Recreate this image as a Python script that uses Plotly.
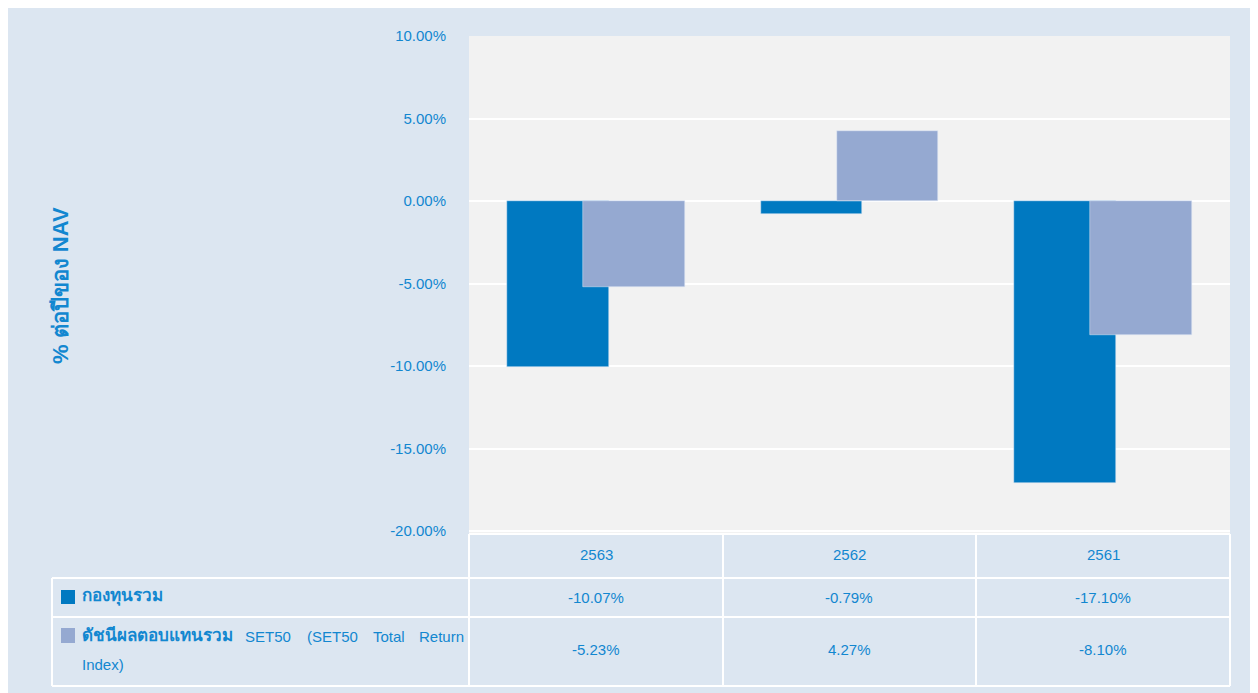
import plotly.graph_objects as go

categories = ["2563", "2562", "2561"]
fund_name = "กองทุนรวม"
bench_name_thai = "ดัชนีผลตอบแทนรวม"
bench_name_words = ["SET50", "(SET50", "Total", "Return"]
bench_name_line2 = "Index)"
fund_values = [-10.07, -0.79, -17.10]
bench_values = [-5.23, 4.27, -8.10]
y_tickvals = [-20, -15, -10, -5, 0, 5, 10]
y_title = "% ต่อปีของ NAV"

OFF = 8  # page body margin
W, H = 1258 - OFF, 693 - OFF
# plot area in screen pixels
SL, SR, ST, SB = 469, 1230, 36, 533
L, R, T, B = SL - OFF, SR - OFF, ST - OFF, SB - OFF
BG = "#dce6f1"
DARK = "#0079c1"
LIGHT = "#95a9d1"
TXT = "#1287d0"
FONT = "Liberation Sans, Arial, sans-serif"


def X(sx):
    return (sx - SL) / (SR - SL)


def Y(sy):
    return (SB - sy) / (SB - ST)


fig = go.Figure()
fig.add_trace(go.Bar(x=categories, y=fund_values, name=fund_name, marker_color=DARK,
                     offset=-0.35, width=0.4, showlegend=False))
fig.add_trace(go.Bar(x=categories, y=bench_values, name=bench_name_thai, marker_color=LIGHT,
                     offset=-0.05, width=0.4, showlegend=False))

shapes = []


def hline(y, x0, x1):
    shapes.append(dict(type="line", xref="paper", yref="paper", x0=X(x0), x1=X(x1), y0=Y(y), y1=Y(y),
                       line=dict(color="white", width=2)))


def vline(x, y0, y1):
    shapes.append(dict(type="line", xref="paper", yref="paper", x0=X(x), x1=X(x), y0=Y(y0), y1=Y(y1),
                       line=dict(color="white", width=2)))


hline(534, 469, 1230)
hline(578, 52, 1230)
hline(617, 52, 1230)
hline(686, 52, 1230)
vline(52, 578, 686)
for xv in [469, 723, 976, 1230]:
    vline(xv, 534, 686)

# legend squares
shapes.append(dict(type="rect", xref="paper", yref="paper", x0=X(61), x1=X(75), y0=Y(590), y1=Y(604),
                   fillcolor=DARK, line_width=0))
shapes.append(dict(type="rect", xref="paper", yref="paper", x0=X(61), x1=X(75), y0=Y(628), y1=Y(643),
                   fillcolor=LIGHT, line_width=0))

ann = []


def text(px, py, s, size=15, xanchor="center", bold=False, angle=0):
    ann.append(dict(xref="paper", yref="paper", x=X(px), y=Y(py), text=f"<b>{s}</b>" if bold else s,
                    showarrow=False, xanchor=xanchor, yanchor="middle", textangle=angle,
                    font=dict(family=FONT, size=size, color=TXT)))


col_centers = [596, 849, 1103]
for c, cat, fv, bv in zip(col_centers, categories, fund_values, bench_values):
    text(c, 554, cat)
    text(c, 597, f"{fv:.2f}%")
    text(c, 650, f"{bv:.2f}%")

text(80, 596, fund_name, size=17, xanchor="left", bold=True)
text(80, 635, bench_name_thai, size=17, xanchor="left", bold=True)
word_x = [243, 305, 371, 466]
for wx, w, i in zip(word_x, bench_name_words, range(4)):
    text(wx, 636, w, xanchor="right" if i == 3 else "left")
text(80, 664, bench_name_line2, xanchor="left")

text(60, 286, y_title, size=22, bold=True, angle=-90)

fig.update_layout(
    width=W, height=H,
    margin=dict(l=L, r=W - R, t=T, b=H - B),
    paper_bgcolor=BG,
    plot_bgcolor="#f2f2f2",
    barmode="overlay",
    bargap=0,
    shapes=shapes,
    annotations=ann,
    font=dict(family=FONT, color=TXT),
)
fig.update_xaxes(type="category", range=[-0.5, 2.5], showticklabels=False, showgrid=False,
                 zeroline=False, showline=False)
fig.update_yaxes(range=[-20.12, 10], tickvals=y_tickvals,
                 ticktext=[f"{v:.2f}%" for v in y_tickvals],
                 showgrid=True, gridcolor="white", gridwidth=1.5, zeroline=True, zerolinecolor="white",
                 zerolinewidth=2, ticks="", ticklabelstandoff=22,
                 tickfont=dict(family=FONT, size=15, color=TXT), showline=False)

fig.write_html("out.html")
